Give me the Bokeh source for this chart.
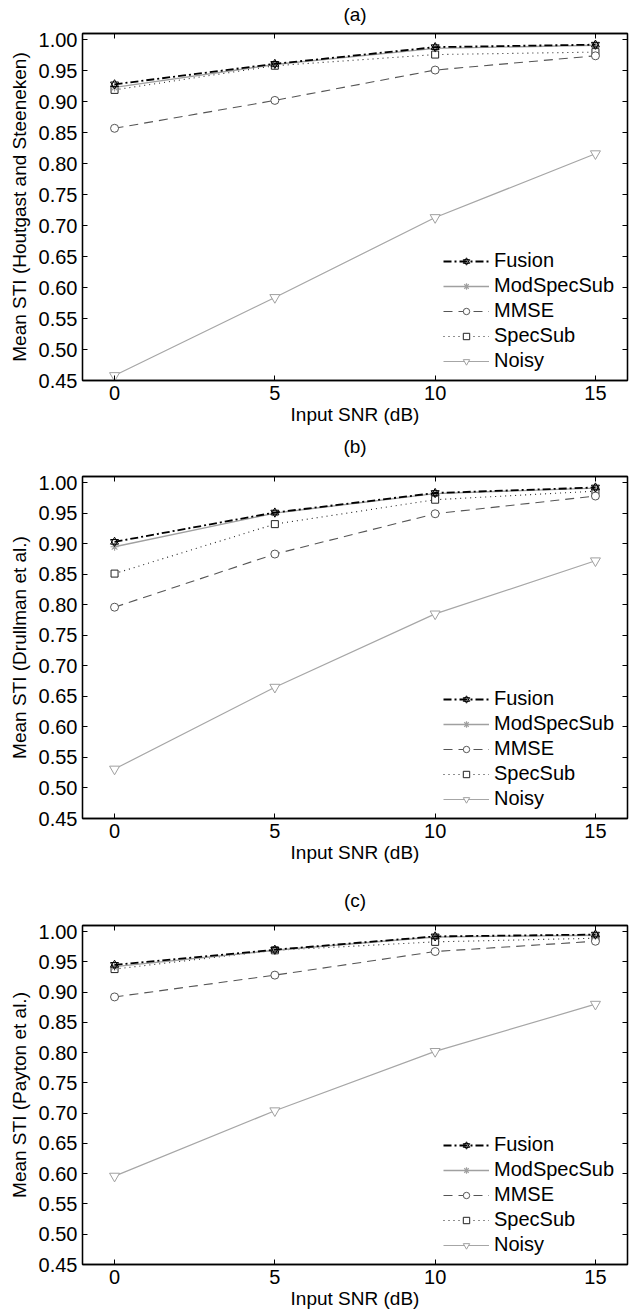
from bokeh.plotting import figure
from bokeh.models import (Range1d, FixedTicker, LinearAxis, CustomJSTickFormatter,
                          Legend, LegendItem, PrintfTickFormatter)
from bokeh.layouts import column
from bokeh.embed import file_html
from bokeh.resources import INLINE

# ---------------- data ----------------
snr = [0, 5, 10, 15]
x_ticks = [0, 5, 10, 15]
y_ticks = [0.45, 0.50, 0.55, 0.60, 0.65, 0.70, 0.75, 0.80, 0.85, 0.90, 0.95, 1.00]

series_names = ["Fusion", "ModSpecSub", "MMSE", "SpecSub", "Noisy"]
panel_titles = ["(a)", "(b)", "(c)"]
y_labels = ["Mean STI (Houtgast and Steeneken)",
            "Mean STI (Drullman et al.)",
            "Mean STI (Payton et al.)"]
x_label = "Input SNR (dB)"

# panel (a) Houtgast and Steeneken
a_fusion = [0.928, 0.961, 0.988, 0.992]
a_modspecsub = [0.923, 0.960, 0.986, 0.991]
a_mmse = [0.857, 0.902, 0.951, 0.974]
a_specsub = [0.919, 0.958, 0.976, 0.980]
a_noisy = [0.458, 0.584, 0.713, 0.816]

# panel (b) Drullman et al.
b_fusion = [0.903, 0.951, 0.983, 0.992]
b_modspecsub = [0.895, 0.950, 0.982, 0.991]
b_mmse = [0.796, 0.883, 0.949, 0.978]
b_specsub = [0.851, 0.932, 0.972, 0.986]
b_noisy = [0.531, 0.665, 0.785, 0.872]

# panel (c) Payton et al.
c_fusion = [0.945, 0.970, 0.992, 0.995]
c_modspecsub = [0.942, 0.969, 0.991, 0.994]
c_mmse = [0.892, 0.928, 0.967, 0.984]
c_specsub = [0.938, 0.969, 0.983, 0.989]
c_noisy = [0.596, 0.704, 0.802, 0.880]

FONT = "Liberation Sans"
FS = "20px"
FS_LABEL = "19px"


def make_panel(title, ylabel, fusion, modspec, mmse, specsub, noisy,
               height, top_border, frame_h, title_standoff):
    bottom = height - top_border - frame_h
    p = figure(width=640, height=height, output_backend="svg", toolbar_location=None,
               x_range=Range1d(-1, 16), y_range=Range1d(0.45, 1.01),
               min_border_left=82, min_border_right=13, min_border_top=top_border,
               min_border_bottom=bottom, background_fill_color="white",
               border_fill_color="white")
    p.grid.visible = False
    p.outline_line_color = "black"
    p.outline_line_width = 1.3

    for ax in p.xaxis:
        ax.ticker = FixedTicker(ticks=x_ticks)
        ax.axis_label = x_label
    for ax in p.yaxis:
        ax.ticker = FixedTicker(ticks=y_ticks)
        ax.formatter = PrintfTickFormatter(format="%.2f")
        ax.axis_label = ylabel
    for ax in list(p.xaxis) + list(p.yaxis):
        ax.major_tick_in = 5
        ax.major_tick_out = 0
        ax.minor_tick_in = 0
        ax.minor_tick_out = 0
        ax.axis_line_color = "black"
        ax.axis_line_width = 1.3
        ax.major_tick_line_color = "black"
        ax.major_label_text_font = FONT
        ax.major_label_text_font_size = FS
        ax.major_label_text_color = "black"
        ax.axis_label_text_font = FONT
        ax.axis_label_text_font_size = FS_LABEL
        ax.axis_label_text_font_style = "normal"
        ax.axis_label_text_color = "black"
    p.xaxis.major_label_standoff = 5
    p.xaxis.axis_label_standoff = 1
    p.yaxis.major_label_standoff = 5
    p.yaxis.axis_label_standoff = 6

    blank = CustomJSTickFormatter(code="return ''")
    # top axis: inner ticks, no tick labels, carries the panel title "(a)" etc.
    top = LinearAxis(ticker=FixedTicker(ticks=x_ticks), formatter=blank,
                     major_tick_in=5, major_tick_out=0, minor_tick_in=0, minor_tick_out=0,
                     axis_line_color="black", axis_line_width=1.3,
                     major_label_text_font_size="1px", major_label_standoff=0,
                     axis_label=title, axis_label_standoff=title_standoff,
                     axis_label_text_font=FONT, axis_label_text_font_size=FS_LABEL,
                     axis_label_text_font_style="normal", axis_label_text_color="black")
    right = LinearAxis(ticker=FixedTicker(ticks=y_ticks), formatter=blank,
                       major_tick_in=5, major_tick_out=0, minor_tick_in=0, minor_tick_out=0,
                       axis_line_color="black", axis_line_width=1.3,
                       major_label_text_font_size="1px", major_label_standoff=0)
    p.add_layout(top, "above")
    p.add_layout(right, "right")

    # Noisy
    ln_n = p.line(snr, noisy, line_color="#a6a6a6", line_width=1.2)
    mk_n = p.scatter(snr, noisy, marker="inverted_triangle", size=10,
                     line_color="#a0a0a0", fill_color="white", line_width=1)
    # SpecSub
    ln_s = p.line(snr, specsub, line_color="#222222", line_width=1.1, line_dash="1 4")
    mk_s = p.scatter(snr, specsub, marker="square", size=7,
                     line_color="#222222", fill_color="white", line_width=1)
    # MMSE
    ln_m = p.line(snr, mmse, line_color="#555555", line_width=1.1, line_dash="9 6")
    mk_m = p.scatter(snr, mmse, marker="circle", size=8,
                     line_color="#555555", fill_color="white", line_width=1)
    # ModSpecSub
    ln_ms = p.line(snr, modspec, line_color="#a0a0a0", line_width=1.4)
    mk_ms = p.scatter(snr, modspec, marker="asterisk", size=8,
                      line_color="#a0a0a0", line_width=1.2)
    # Fusion
    ln_f = p.line(snr, fusion, line_color="black", line_width=1.8, line_dash="8 3 2 3")
    mk_f1 = p.scatter(snr, fusion, marker="triangle", size=8,
                      line_color="black", fill_color=None, line_width=1)
    mk_f2 = p.scatter(snr, fusion, marker="inverted_triangle", size=8,
                      line_color="black", fill_color=None, line_width=1)

    items = [
        LegendItem(label=series_names[0], renderers=[ln_f, mk_f1, mk_f2]),
        LegendItem(label=series_names[1], renderers=[ln_ms, mk_ms]),
        LegendItem(label=series_names[2], renderers=[ln_m, mk_m]),
        LegendItem(label=series_names[3], renderers=[ln_s, mk_s]),
        LegendItem(label=series_names[4], renderers=[ln_n, mk_n]),
    ]
    leg = Legend(items=items, location=(361, 7), border_line_color=None,
                 background_fill_alpha=0, padding=0, margin=0, spacing=0,
                 glyph_width=46, glyph_height=16, label_height=25, label_standoff=5,
                 label_text_font=FONT, label_text_font_size=FS, label_text_color="black")
    p.add_layout(leg, "center")
    return p


pa = make_panel(panel_titles[0], y_labels[0], a_fusion, a_modspecsub, a_mmse, a_specsub, a_noisy,
                432, 33, 347, 9)
pb = make_panel(panel_titles[1], y_labels[1], b_fusion, b_modspecsub, b_mmse, b_specsub, b_noisy,
                454, 39, 347, 20)
pc = make_panel(panel_titles[2], y_labels[2], c_fusion, c_modspecsub, c_mmse, c_specsub, c_noisy,
                427, 33, 345, 15)

layout = column(pa, pb, pc, spacing=0)
open("out.html", "w").write(file_html(layout, INLINE))
